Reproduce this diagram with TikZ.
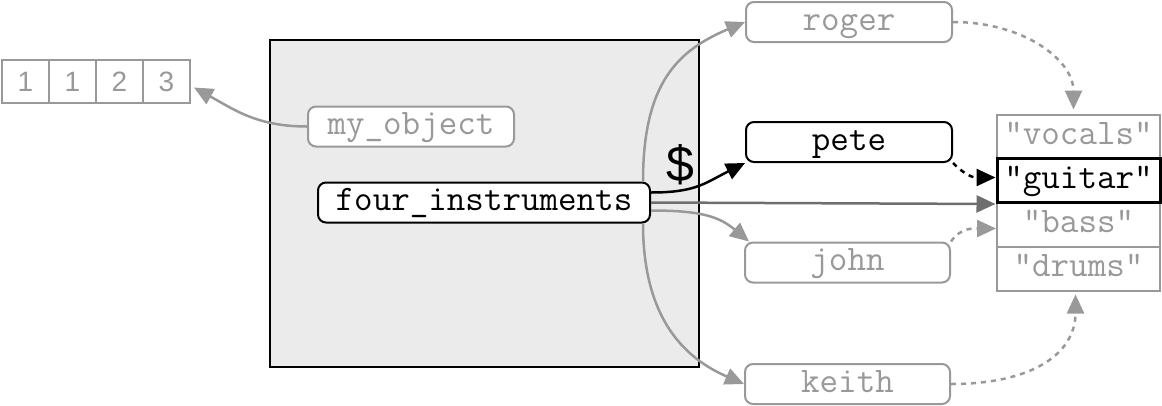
\documentclass[tikz,border=0pt]{standalone}
\usepackage{fontspec}
\setsansfont{Liberation Sans}
\usetikzlibrary{arrows.meta}
\definecolor{lg}{HTML}{999999}
\definecolor{dg}{HTML}{6E6E6E}
\definecolor{boxfill}{HTML}{EBEBEB}
\begin{document}
\begin{tikzpicture}[x=1pt,y=-1pt,
  mono/.style={font=\ttfamily\fontsize{36}{36}\selectfont, text height=22pt, text depth=6pt},
  namebox/.style={draw, rounded corners=8pt, line width=2pt, minimum width=206pt, minimum height=40pt, inner sep=0pt, fill=white, mono},
  grayname/.style={namebox, draw=lg, text=lg},
  blackname/.style={namebox, draw=black, text=black},
  vcell/.style={draw=lg, line width=2pt, minimum width=163pt, minimum height=44pt, inner sep=0pt, mono, text=lg, fill=white},
  arrcell/.style={draw=lg, line width=2pt, minimum width=47pt, minimum height=43pt, inner sep=0pt, font=\sffamily\fontsize{28}{28}\selectfont, text=lg},
  link/.style={line width=2.5pt, -{Triangle[length=19pt,width=17pt]}},
  ptr/.style={link, dash pattern=on 5pt off 5pt}]
\useasboundingbox (0,0) rectangle (1162,405);
% environment box
\node[draw=black, line width=2pt, fill=boxfill, minimum width=429pt, minimum height=327pt, inner sep=0pt] (env) at (484.5,203.5) {};
% array
\node[arrcell] (a1) at (25.5,81.5) {1};
\node[arrcell] (a2) at (72.5,81.5) {1};
\node[arrcell] (a3) at (119.5,81.5) {2};
\node[arrcell] (a4) at (166.5,81.5) {3};
% names
\node[grayname] (myobj) at (411,126.5) {my\_object};
\node[blackname, minimum width=332pt] (four) at (484,202.5) {four\_instruments};
\node[grayname] (roger) at (849,22) {roger};
\node[blackname] (pete) at (849,142) {pete};
\node[grayname, minimum width=205pt] (john) at (847.5,262.5) {john};
\node[grayname, minimum width=205pt] (keith) at (847.5,384) {keith};
% vector
\node[vcell] (vocals) at (1078.5,136.5) {"vocals"};
\node[vcell] (bass) at (1078.5,224.5) {"bass"};
\node[vcell] (drums) at (1078.5,268.5) {"drums"};
\node[vcell, draw=black, line width=3pt, text=black] (guitar) at (1078.5,180.5) {"guitar"};
% dollar
\node[font=\sffamily\fontsize{50}{50}\selectfont, inner sep=0pt] (dollar) at (680,165) {\$};
% connectors
\draw[link, lg] (myobj.west) .. controls +(-50,0) and +(40,22) .. ([xshift=3pt,yshift=-6pt]a4.east);
\draw[link, lg] ([xshift=-8pt]four.north east) .. controls +(0,-100) and +(-66,28) .. (roger.west);
\draw[link, lg] ([xshift=-8pt]four.south east) .. controls +(0,100) and +(-55,-24) .. (keith.west);
\draw[link, lg] ([yshift=-8pt]four.east) .. controls +(50,0) and +(-30,-25) .. ([xshift=5pt]john.north west);
\draw[link, dg] (four.east) -- (guitar.south west);
\draw[link, black] ([yshift=10pt]four.east) .. controls +(45,0) and +(-40,20) .. (pete.south west);
\draw[ptr, lg] (roger.east) .. controls +(70,0) and +(0,-50) .. ([xshift=-5pt,yshift=4pt]vocals.north);
\draw[ptr, black] (pete.south east) .. controls +(15,15) and +(-20,0) .. ([yshift=3pt]guitar.west);
\draw[ptr, lg] (john.north east) .. controls +(10,-15) and +(-20,0) .. ([yshift=-4pt]bass.west);
\draw[ptr, lg] (keith.east) .. controls +(80,0) and +(0,60) .. ([xshift=-3pt,yshift=-3pt]drums.south);
\end{tikzpicture}
\end{document}
